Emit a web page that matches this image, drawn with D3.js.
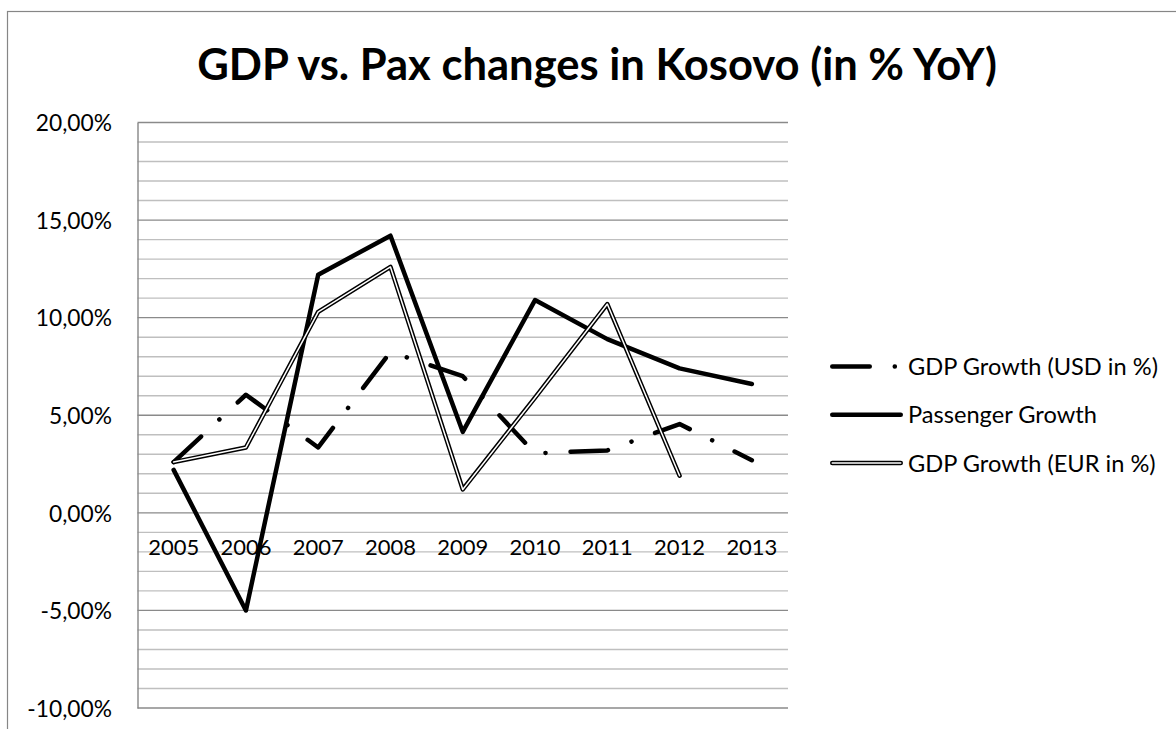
<!DOCTYPE html>
<html>
<head>
<meta charset="utf-8">
<script src="https://cdn.jsdelivr.net/npm/d3@7"></script>
<style>
  html, body { margin: 0; padding: 0; background: #ffffff; overflow: hidden; }
  text { font-family: Lato, "Open Sans", sans-serif; fill: #000; }
</style>
</head>
<body>
<svg id="chart" width="1176" height="729"></svg>
<script>
// ---- data (year-over-year change, in percent) ----
const years = ["2005", "2006", "2007", "2008", "2009", "2010", "2011", "2012", "2013"];
const gdpUsd = [2.6, 6.05, 3.35, 8.25, 7.0, 3.05, 3.2, 4.55, 2.7];
const passenger = [2.2, -5.0, 12.2, 14.2, 4.15, 10.9, 8.9, 7.4, 6.6];
const gdpEur = [2.6, 3.35, 10.3, 12.6, 1.2, 5.9, 10.7, 1.9, null];
const seriesNames = ["GDP Growth (USD in %)", "Passenger Growth", "GDP Growth (EUR in %)"];
const yTicks = [-10, -5, 0, 5, 10, 15, 20];
const titleText = "GDP vs. Pax changes in Kosovo (in % YoY)";

const svg = d3.select("#chart");

// comma as decimal separator, plain hyphen for negatives
const locale = d3.formatLocale({ decimal: ",", thousands: ".", grouping: [3], currency: ["", ""], minus: "-", percent: "%" });
const pct = locale.format(".2%");

// scale a text element's font-size so that it spans the given width
function fitFont(sel, width) {
  const fs = parseFloat(sel.attr("font-size"));
  const w = sel.node().getComputedTextLength();
  return fs * width / w;
}

// chart area frame
svg.append("rect")
  .attr("x", 7.5).attr("y", 11.5).attr("width", 1400).attr("height", 1000)
  .attr("fill", "#fff").attr("stroke", "#868686").attr("stroke-width", 1.2);

// title
const title = svg.append("text")
  .attr("x", 597).attr("y", 80)
  .attr("text-anchor", "middle")
  .attr("font-weight", 700)
  .attr("font-size", 40)
  .text(titleText);
title.attr("font-size", fitFont(title, 800));

// plot scales
const x = d3.scaleBand().domain(years).range([137.5, 788]).paddingInner(0).paddingOuter(0);
const y = d3.scaleLinear().domain([-10, 20]).range([708, 122.5]);
const cx = d => x(d) + x.bandwidth() / 2;

// gridlines: light every 1 %, darker every 5 %
const grid = svg.append("g");
const minor = d3.range(-10, 21, 1).filter(v => v % 5 !== 0);
const major = d3.range(-10, 21, 5);
grid.selectAll("line.minor").data(minor).join("line")
  .attr("class", "minor")
  .attr("x1", 137.5).attr("x2", 788)
  .attr("y1", d => y(d)).attr("y2", d => y(d))
  .attr("stroke", "#bfbfbf").attr("stroke-width", 1.4);
grid.selectAll("line.major").data(major).join("line")
  .attr("class", "major")
  .attr("x1", 137.5).attr("x2", 788)
  .attr("y1", d => y(d)).attr("y2", d => y(d))
  .attr("stroke", "#8a8a8a").attr("stroke-width", 1.4);

// value axis
const yAxis = svg.append("g")
  .attr("transform", "translate(137.5,0)")
  .call(d3.axisLeft(y).tickValues(yTicks).tickSize(0).tickPadding(25.5).tickFormat(d => pct(d / 100)));
yAxis.select(".domain").attr("stroke", "#868686").attr("stroke-width", 1.4);
const yLabels = yAxis.selectAll("text").attr("font-family", "Lato").attr("font-size", 22).attr("dy", "0.36em");
const ySize = fitFont(yLabels.filter(d => d === 0), 63);
yLabels.attr("font-size", ySize);

// category axis (labels sit just below the zero line)
const xAxis = svg.append("g")
  .attr("transform", `translate(0,${y(0)})`)
  .call(d3.axisBottom(x).tickSize(0));
xAxis.select(".domain").remove();
const xLabels = xAxis.selectAll("text").attr("font-family", "Lato").attr("font-size", 22).attr("dy", null);
const xSize = fitFont(xLabels.filter(d => d === "2005"), 51);
xLabels.attr("font-size", xSize).attr("y", 555 - y(0));

// series
const line = d3.line()
  .defined(d => d.v !== null)
  .x(d => cx(d.year))
  .y(d => y(d.v));
const pts = arr => years.map((yr, i) => ({ year: yr, v: arr[i] }));

const dashDot = "37.5 25 0.1 25";
const plot = svg.append("g");

plot.append("path").datum(pts(gdpUsd)).attr("d", line)
  .attr("fill", "none").attr("stroke", "#000").attr("stroke-width", 4.5)
  .attr("stroke-dasharray", dashDot).attr("stroke-linecap", "round").attr("stroke-linejoin", "round");

plot.append("path").datum(pts(passenger)).attr("d", line)
  .attr("fill", "none").attr("stroke", "#000").attr("stroke-width", 4.5)
  .attr("stroke-linecap", "round").attr("stroke-linejoin", "round");

plot.append("path").datum(pts(gdpEur)).attr("d", line)
  .attr("fill", "none").attr("stroke", "#000").attr("stroke-width", 4.5)
  .attr("stroke-linecap", "round").attr("stroke-linejoin", "round");
plot.append("path").datum(pts(gdpEur)).attr("d", line)
  .attr("fill", "none").attr("stroke", "#fff").attr("stroke-width", 1.5)
  .attr("stroke-linecap", "round").attr("stroke-linejoin", "round");

// legend
const legend = svg.append("g");
const legY = i => 366.5 + i * 48.3;
const lx1 = 832.25, lx2 = 900.75;

legend.append("line").attr("x1", lx1).attr("x2", lx2).attr("y1", legY(0)).attr("y2", legY(0))
  .attr("stroke", "#000").attr("stroke-width", 4.5).attr("stroke-dasharray", dashDot).attr("stroke-linecap", "round");
legend.append("line").attr("x1", lx1).attr("x2", lx2).attr("y1", legY(1)).attr("y2", legY(1))
  .attr("stroke", "#000").attr("stroke-width", 4.5).attr("stroke-linecap", "round");
legend.append("line").attr("x1", lx1).attr("x2", lx2).attr("y1", legY(2)).attr("y2", legY(2))
  .attr("stroke", "#000").attr("stroke-width", 4.5).attr("stroke-linecap", "round");
legend.append("line").attr("x1", lx1).attr("x2", lx2).attr("y1", legY(2)).attr("y2", legY(2))
  .attr("stroke", "#fff").attr("stroke-width", 1.5).attr("stroke-linecap", "round");

const legText = legend.selectAll("text").data(seriesNames).join("text")
  .attr("x", 908).attr("y", (d, i) => legY(i) + 8.5)
  .attr("font-size", 22)
  .text(d => d);
legText.attr("font-size", fitFont(legText.filter((d, i) => i === 0), 250));
</script>
</body>
</html>
